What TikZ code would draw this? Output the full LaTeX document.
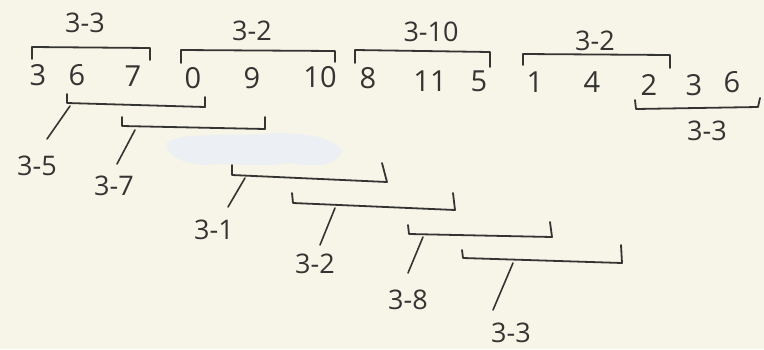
\documentclass[tikz,border=0pt]{standalone}
\usepackage{fontspec}
\setmainfont{Open Sans}
\definecolor{paper}{RGB}{247,245,232}
\definecolor{ink}{RGB}{52,52,50}
\definecolor{whiteout}{RGB}{236,240,244}
\begin{document}
\begin{tikzpicture}[x=1pt,y=-1pt,
  dig/.style={font=\fontsize{29}{29}\selectfont, text=ink, inner sep=0pt},
  lab/.style={font=\fontsize{27}{27}\selectfont, text=ink, inner sep=0pt},
  brk/.style={draw=ink, line width=1.8pt, line cap=round, line join=round},
  stem/.style={draw=ink, line width=1.6pt, line cap=round}]
\fill[paper] (0,0) rectangle (764,349);
\useasboundingbox (0,0) rectangle (764,349);
% correction fluid patch
\fill[whiteout] (167,142) .. controls (185,132) and (230,136) .. (260,134)
  .. controls (300,131) and (330,136) .. (342,150)
  .. controls (338,165) and (320,168) .. (290,163)
  .. controls (260,168) and (230,162) .. (205,165)
  .. controls (180,163) and (165,155) .. (167,142) -- cycle;
% top labels
\node[lab] (t1) at (85,23) {3-3};
\node[lab] (t2) at (252,31) {3-2};
\node[lab] (t3) at (431,32) {3-10};
\node[lab] (t4) at (595,41) {3-2};
% top brackets
\draw[brk] (32,59) -- (32,47) -- (150,48) -- (150,60);
\draw[brk] (181,63) -- (181,50) -- (335,51) -- (335,62);
\draw[brk] (355,63) -- (355,50) -- (490,52) -- (490,67);
\draw[brk] (523,65) -- (523,54) -- (670,55) -- (670,68);
% digit row
\node[dig] (d1) at (38,75) {3};
\node[dig] (d2) at (77,75) {6};
\node[dig] (d3) at (133,76) {7};
\node[dig] (d4) at (193,78) {0};
\node[dig] (d5) at (252,78) {9};
\node[dig] (d6) at (320,77) {10};
\node[dig] (d7) at (368,78) {8};
\node[dig] (d8) at (430,81) {11};
\node[dig] (d9) at (479,81) {5};
\node[dig] (d10) at (535,82) {1};
\node[dig] (d11) at (592,82) {4};
\node[dig] (d12) at (649,85) {2};
\node[dig] (d13) at (694,85) {3};
\node[dig] (d14) at (732,82) {6};
% right lower bracket
\draw[brk] (635,100) -- (636,109) -- (758,107) -- (760,98);
\node[lab] (r1) at (707,131) {3-3};
% lower brackets
\draw[brk] (67,94) -- (67,103) -- (205,107) -- (205,97);
\draw[brk] (122,117) -- (122,126) -- (265,129) -- (265,117);
\draw[brk] (232,165) -- (232,175) -- (387,182) -- (382,163);
\draw[brk] (292,193) -- (293,203) -- (455,210) -- (453,193);
\draw[brk] (408,225) -- (409,234) -- (552,237) -- (550,222);
\draw[brk] (462,250) -- (463,258) -- (622,263) -- (621,245);
% stems
\coordinate (s1a) at (70,106); \coordinate (s1b) at (47,139);
\coordinate (s2a) at (135,130); \coordinate (s2b) at (117,164);
\coordinate (s3a) at (245,178); \coordinate (s3b) at (228,207);
\coordinate (s4a) at (335,208); \coordinate (s4b) at (320,245);
\coordinate (s5a) at (423,237); \coordinate (s5b) at (408,273);
\coordinate (s6a) at (513,263); \coordinate (s6b) at (493,310);
\draw[stem] (s1a) -- (s1b);
\draw[stem] (s2a) -- (s2b);
\draw[stem] (s3a) -- (s3b);
\draw[stem] (s4a) -- (s4b);
\draw[stem] (s5a) -- (s5b);
\draw[stem] (s6a) -- (s6b);
% lower labels
\node[lab] (l1) at (37,166) {3-5};
\node[lab] (l2) at (114,186) {3-7};
\node[lab] (l3) at (214,230) {3-1};
\node[lab] (l4) at (315,264) {3-2};
\node[lab] (l5) at (408,300) {3-8};
\node[lab] (l6) at (511,333) {3-3};
\end{tikzpicture}
\end{document}
